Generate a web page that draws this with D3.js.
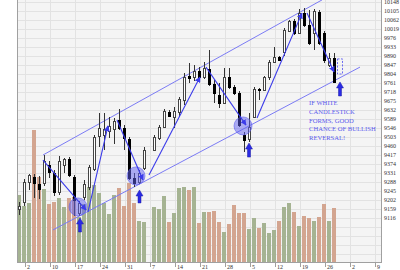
<!DOCTYPE html>
<html lang="en">
<head>
<meta charset="UTF-8">
<title>Channel with candlesticks</title>
<script src="https://d3js.org/d3.v7.min.js"></script>
<style>
    body { margin: 0; background: #fff; }
    svg { display: block; }
    .lbl { font-family: "Liberation Serif", "DejaVu Serif", serif; font-size: 6px; fill: #333; }
    .note { font-family: "Liberation Serif", "DejaVu Serif", serif; font-size: 6.6px; fill: #5a5aee; }
</style>
</head>
<body>
<svg width="400" height="270"></svg>
<script>
// daily OHLC, one slot per trading day (slot 26 is a holiday)
const open  = [9159,9192,9288,9312,9278,9283,9369,9331,9240,9369,9398,9312,9140,9216,9264,9350,9508,9513,9532,9541,9584,9546,9493,9307,9288,9355,null,9441,9498,9551,9622,9599,9622,9680,9794,9790,9818,9790,9828,9756,9704,9665,9790,9742,9713,9513,9493,9599,9732,9728,9790,9861,9885,9909,10009,10057,10000,10095,10038,10000,10100,10000,9847,9880];
const high  = [9192,9302,9326,9326,9317,9417,9388,9345,9412,9403,9407,9321,9197,9298,9369,9513,9618,9618,9599,9594,9637,9560,9503,9331,9345,9455,null,9513,9560,9637,9632,9646,9694,9809,9857,9847,9837,9861,9919,9775,9761,9833,9833,9751,9723,9527,9618,9742,9737,9794,9871,9933,9890,10024,10062,10067,10115,10119,10110,10115,10110,10009,9904,9904];
const low   = [9130,9173,9250,9212,9207,9269,9307,9221,9226,9331,9312,9126,9126,9202,9250,9341,9455,9441,9498,9470,9536,9441,9298,9264,9278,9345,null,9436,9489,9546,9599,9546,9599,9656,9761,9771,9780,9780,9747,9665,9642,9661,9732,9704,9551,9431,9479,9594,9680,9723,9775,9857,9866,9890,10005,9990,9995,10029,9943,9919,9943,9857,9837,9761];
const close = [9173,9288,9321,9283,9255,9388,9336,9240,9388,9398,9321,9202,9188,9278,9360,9503,9546,9541,9556,9579,9546,9498,9307,9283,9331,9441,null,9503,9551,9627,9603,9627,9685,9790,9785,9818,9790,9833,9756,9713,9665,9790,9742,9713,9560,9489,9551,9732,9728,9790,9861,9885,9871,10014,10057,10000,10095,10038,9952,10105,9952,9871,9880,9766];
const volume = [67,56,59,132,85,73,58,60,64,55,64,65,45,58,75,77,69,59,48,67,74,56,79,59,41,40,null,55,53,66,40,49,74,75,72,75,39,50,50,51,40,30,38,57,49,49,33,44,34,39,29,32,41,55,59,50,36,46,44,41,45,58,41,54];

const priceTicks = [9116,9159,9202,9245,9288,9331,9374,9417,9460,9503,9546,9589,9632,9675,9718,9761,9804,9847,9890,9933,9976,10019,10062,10105,10148];
const weekLabels = ["2","10","17","24","31","7","14","21","28","5","12","19","26","2","9"];

// annotations, in [day slot, price]
const channelUpper = [[4.8, 9417], [60.6, 10158]];
const channelLower = [[6.8, 9059], [68.2, 9837]];
const swings = [
    [[4.8, 9393], [13.4, 9154]],
    [[13.8, 9145], [17.8, 9556]],
    [[19.6, 9584], [24.8, 9298]],
    [[26.0, 9321], [36.2, 9790]],
    [[37.4, 9837], [45.4, 9560]],
    [[47.6, 9594], [56.6, 10095]],
    [[57.6, 10095], [63.0, 9814]]
];
const circles = [[11.8, 9169], [23.4, 9317], [44.8, 9556]];
const upArrows = [[12.2, 9116, 9049], [24.1, 9250, 9188], [46.0, 9474, 9407], [64.2, 9766, 9699]];
const ghostCandle = [64.2, 9876, 9804];
const noteLines = ["IF WHITE", "CANDLESTICK", "FORMS, GOOD", "CHANCE OF BULLISH", "REVERSAL!"];
const notePos = [58, 9665];

const left = 17, right = 381, bottom = 262;
const svg = d3.select("svg");

const x = d3.scaleLinear().domain([0, 63]).range([19, 334]);
const y = d3.scaleLinear().domain([9116, 10148]).range([218, 2]);
const yVol = d3.scaleLinear().domain([0, 132]).range([bottom, 130]);

// plot background
svg.append("rect").attr("x", left).attr("y", 0).attr("width", right - left).attr("height", bottom).attr("fill", "#f4f4f4");

// grid
const step = priceTicks[1] - priceTicks[0];
const gridPrices = priceTicks.concat(d3.range(1, 5).map(j => priceTicks[0] - j * step));
svg.append("g").selectAll("line").data(gridPrices).join("line")
    .attr("x1", left).attr("x2", right)
    .attr("y1", d => Math.round(y(d)) + 0.5).attr("y2", d => Math.round(y(d)) + 0.5)
    .attr("stroke", "#e2e2e2").attr("shape-rendering", "crispEdges");

const weekX = weekLabels.map((d, k) => Math.round(x(1.2 + 5 * k)) + 0.5);
svg.append("g").selectAll("line").data(weekX).join("line")
    .attr("x1", d => d).attr("x2", d => d).attr("y1", 0).attr("y2", bottom)
    .attr("stroke", "#e2e2e2").attr("shape-rendering", "crispEdges");

// volume
const days = d3.range(open.length).filter(i => open[i] !== null);
svg.append("g").selectAll("rect").data(days).join("rect")
    .attr("x", i => Math.round(x(i)) - 2)
    .attr("y", i => yVol(volume[i]))
    .attr("width", 4)
    .attr("height", i => bottom - yVol(volume[i]))
    .attr("fill", i => close[i] >= open[i] ? "#a5b392" : "#d3a590")
    .attr("shape-rendering", "crispEdges");

// axes
svg.append("line").attr("x1", left + 0.5).attr("x2", left + 0.5).attr("y1", 0).attr("y2", bottom).attr("stroke", "#a0a0a0");
svg.append("line").attr("x1", right + 0.5).attr("x2", right + 0.5).attr("y1", 0).attr("y2", bottom).attr("stroke", "#a0a0a0");
svg.append("line").attr("x1", left).attr("x2", right + 1).attr("y1", bottom + 0.5).attr("y2", bottom + 0.5).attr("stroke", "#a0a0a0");

svg.append("g").selectAll("text").data(priceTicks).join("text")
    .attr("class", "lbl")
    .attr("x", right + 3).attr("y", d => y(d) + 2)
    .text(d => d);

svg.append("g").selectAll("line").data(weekX).join("line")
    .attr("x1", d => d).attr("x2", d => d).attr("y1", bottom).attr("y2", bottom + 5)
    .attr("stroke", "#a0a0a0");
svg.append("g").selectAll("text").data(weekLabels).join("text")
    .attr("class", "lbl")
    .attr("x", (d, k) => weekX[k] + 1.5).attr("y", 269)
    .text(d => d);

// channel
const pt = d => [x(d[0]), y(d[1])];
[channelUpper, channelLower].forEach(c => {
    svg.append("path").attr("d", d3.line()(c.map(pt)))
        .attr("fill", "none").attr("stroke", "#7b7bf4").attr("stroke-width", 1);
});

// candles
const cg = svg.append("g");
days.forEach(i => {
    const px = Math.round(x(i)) + 0.5;
    const up = close[i] >= open[i];
    cg.append("line")
        .attr("x1", px).attr("x2", px)
        .attr("y1", Math.round(y(high[i]))).attr("y2", Math.round(y(low[i])))
        .attr("stroke", "#333");
    const top = Math.round(y(Math.max(open[i], close[i]))) + 0.5;
    const bot = Math.round(y(Math.min(open[i], close[i]))) + 0.5;
    cg.append("rect")
        .attr("x", px - 1).attr("y", top)
        .attr("width", 2).attr("height", Math.max(1, bot - top))
        .attr("fill", up ? "#fff" : "#000")
        .attr("stroke", up ? "#444" : "#000");
});

// highlight circles
svg.append("g").selectAll("circle").data(circles).join("circle")
    .attr("cx", d => x(d[0])).attr("cy", d => y(d[1])).attr("r", 9)
    .attr("fill", "rgba(95,95,240,0.5)").attr("stroke", "rgba(95,95,240,0.6)");

// swing arrows
svg.append("defs").append("marker")
    .attr("id", "head").attr("markerUnits", "userSpaceOnUse")
    .attr("viewBox", "0 0 10 10").attr("refX", 9).attr("refY", 5)
    .attr("markerWidth", 6).attr("markerHeight", 6).attr("orient", "auto")
    .append("path").attr("d", "M0,0L10,5L0,10z").attr("fill", "#3b3bea");
swings.forEach(s => {
    svg.append("path").attr("d", d3.line()(s.map(pt)))
        .attr("fill", "none").attr("stroke", "#3b3bea").attr("stroke-width", 1.1)
        .attr("marker-end", "url(#head)");
});

// thick up arrows
svg.append("g").selectAll("path").data(upArrows).join("path")
    .attr("d", d => {
        const cx = x(d[0]), t = y(d[1]), b = y(d[2]);
        return `M${cx},${t}L${cx + 3.5},${t + 6}L${cx + 1.5},${t + 6}L${cx + 1.5},${b}L${cx - 1.5},${b}L${cx - 1.5},${t + 6}L${cx - 3.5},${t + 6}Z`;
    })
    .attr("fill", "#2a2ae4").attr("stroke", "#1c1ca8").attr("stroke-width", 0.5);

// hoped-for white candle
svg.append("rect")
    .attr("x", x(ghostCandle[0]) - 2.5).attr("y", y(ghostCandle[1]))
    .attr("width", 5).attr("height", y(ghostCandle[2]) - y(ghostCandle[1]))
    .attr("fill", "none").attr("stroke", "#6a6af0").attr("stroke-dasharray", "2,1.5");

// note
svg.append("g").selectAll("text").data(noteLines).join("text")
    .attr("class", "note")
    .attr("x", x(notePos[0])).attr("y", (d, k) => y(notePos[1]) + 2.4 + k * 8.6)
    .text(d => d);
</script>
</body>
</html>
